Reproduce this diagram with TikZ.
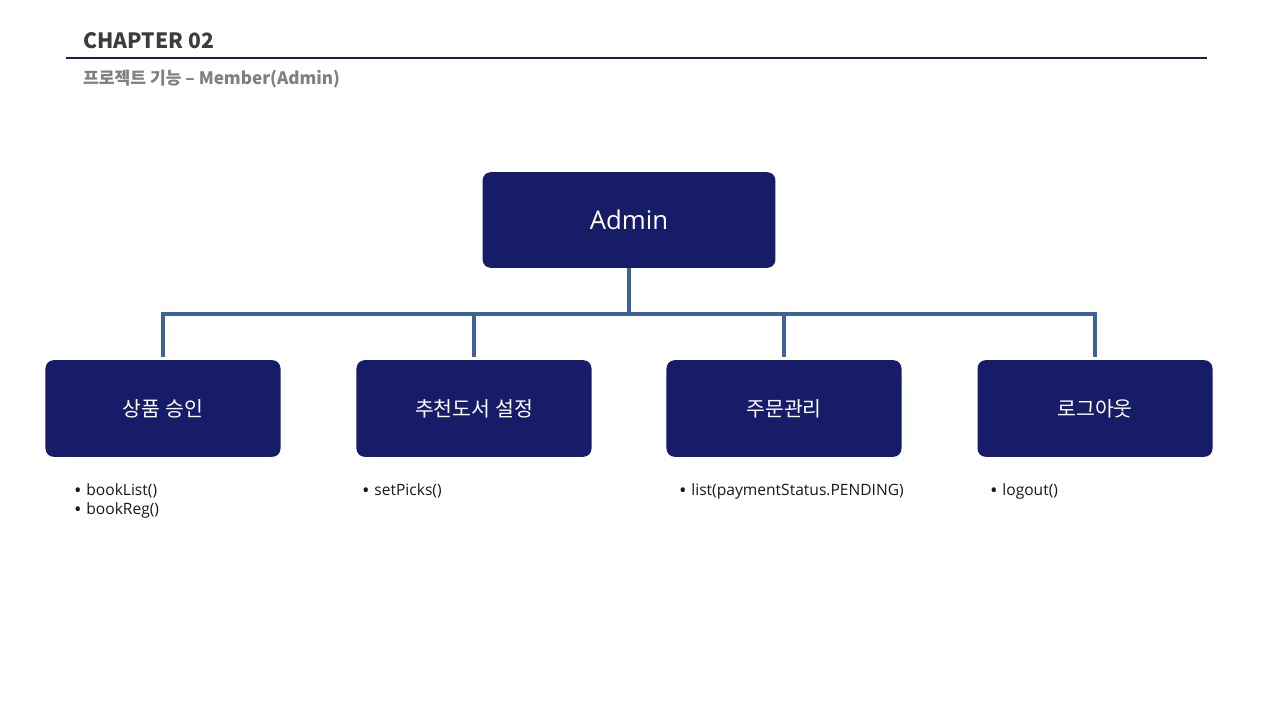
\documentclass[tikz,border=0pt]{standalone}
\usepackage{fontspec}
\setmainfont{Open Sans}
\newfontfamily\kofont{Noto Sans CJK KR}
\usetikzlibrary{positioning}

\definecolor{navybox}{RGB}{23,28,104}
\definecolor{linkblue}{RGB}{60,100,150}
\definecolor{headgray}{RGB}{60,60,60}
\definecolor{subgray}{RGB}{128,128,128}

\newcommand{\itemdot}{\raisebox{-1.8pt}{\fontsize{17}{16}\selectfont•}\hspace{4pt}}

\tikzset{
  topbox/.style={rectangle, rounded corners=7pt, fill=navybox, text=white,
    minimum width=250pt, minimum height=81.6pt, font=\fontsize{22}{26}\selectfont},
  menubox/.style={rectangle, rounded corners=7pt, fill=navybox, text=white,
    minimum width=200.6pt, minimum height=82.5pt, font=\kofont\fontsize{17.5}{20}\selectfont},
  link/.style={draw=linkblue, line width=2.8pt},
  item/.style={anchor=base west, inner sep=0pt, text=black!90,
    font=\fontsize{13.3}{16}\selectfont}
}

\begin{document}
\begin{tikzpicture}[x=0.03cm, y=-0.03cm]
  \useasboundingbox[fill=white] (0,0) rectangle (1280,720);

  % header
  \node[anchor=base west, inner sep=0pt, text=headgray, font=\kofont\bfseries\fontsize{18}{22}\selectfont] (title) at (83,48) {CHAPTER 02};
  \draw[navybox, line width=0.9pt] (66,58) -- (1207,58);
  \node[anchor=base west, inner sep=0pt, text=subgray, font=\kofont\bfseries\fontsize{14.6}{17}\selectfont] (subtitle) at (83,84) {프로젝트 기능 – Member(Admin)};

  % boxes
  \node[topbox] (admin) at (629,220) {Admin};
  \node[menubox] (approve) at (163,408.5) {상품 승인};
  \node[menubox] (picks) at (474,408.5) {추천도서 설정};
  \node[menubox] (orders) at (784,408.5) {주문관리};
  \node[menubox] (logout) at (1095,408.5) {로그아웃};

  % connectors
  \draw[link] (admin.south) -- ++(0,46) coordinate (hub);
  \foreach \n in {approve,picks,orders,logout}
    \draw[link, shorten >=2.5pt] (hub) -| (\n.north);

  % method lists
  \node[item] (approveA) at (74,495) {\itemdot bookList()};
  \node[item] (approveB) at (74,514) {\itemdot bookReg()};
  \node[item] (picksA) at (362,495) {\itemdot setPicks()};
  \node[item] (ordersA) at (679,495) {\itemdot list(paymentStatus.PENDING)};
  \node[item] (logoutA) at (990,495) {\itemdot logout()};
\end{tikzpicture}
\end{document}
